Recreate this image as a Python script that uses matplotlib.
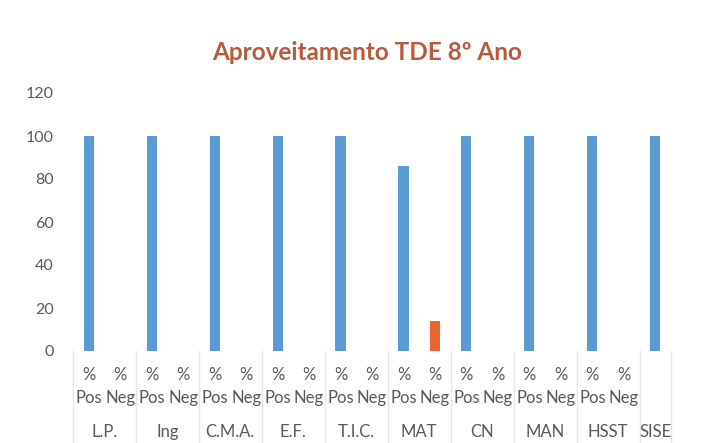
import matplotlib
matplotlib.use('Agg')
import matplotlib.pyplot as plt
from matplotlib.lines import Line2D

plt.rcParams['font.family'] = ['Lato', 'DejaVu Sans']

# Data
subjects = ['L.P.', 'Ing', 'C.M.A.', 'E.F.', 'T.I.C.', 'MAT', 'CN', 'MAN', 'HSST', 'SISE']
pct_pos = [100, 100, 100, 100, 100, 86, 100, 100, 100, 100]
pct_neg = [0, 0, 0, 0, 0, 14, 0, 0, 0, None]   # SISE has no Neg column
sub_labels = ['Pos', 'Neg']
yticks = [0, 20, 40, 60, 80, 100, 120]

blue = '#5b9bd5'
orange = '#ea6530'
grey = '#595959'
sep = '#e6e6e6'

fig = plt.figure(figsize=(7.13, 4.43), dpi=100)
ax = fig.add_axes([73/713, 92/443, 598/713, 258/443])

# slot positions: each subject gets Pos and (if present) Neg slot
slot = 0
pos_x, neg_x, bounds = [], [], [slot - 0.5]
for p, n in zip(pct_pos, pct_neg):
    pos_x.append(slot)
    slot += 1
    if n is not None:
        neg_x.append(slot)
        slot += 1
    bounds.append(slot - 0.5)

neg_vals = [n for n in pct_neg if n is not None]
ax.bar(pos_x, pct_pos, width=0.32, color=blue)
ax.bar(neg_x, neg_vals, width=0.32, color=orange)

ax.set_xlim(-0.5, slot - 0.5)
ax.set_ylim(0, 120)
ax.set_yticks(yticks)
ax.tick_params(axis='y', length=0, colors=grey, labelsize=11.5, pad=14)
ax.set_xticks([])
for s in ax.spines.values():
    s.set_visible(False)

# multi-level category labels
tr = ax.get_xaxis_transform()
lab = dict(transform=tr, ha='center', va='center', fontsize=12, color=grey)
for i, x in enumerate(pos_x):
    if pct_neg[i] is not None:
        for k, xx in enumerate([x, x + 1]):
            ax.text(xx, -0.093, '%', **lab)
            ax.text(xx, -0.182, sub_labels[k], **lab)
        cx = x + 0.5
    else:
        cx = x
    ax.text(cx, -0.314, subjects[i], **lab)

for b in bounds:
    ax.add_line(Line2D([b, b], [0, -0.4], transform=tr, color=sep,
                       lw=1, clip_on=False))

fig.text(367/713, 1 - 52/443, 'Aproveitamento TDE 8º Ano', ha='center',
         va='center', fontsize=17.5, fontweight='bold', color='#b85a3c')

plt.savefig('out.png', dpi=100)
